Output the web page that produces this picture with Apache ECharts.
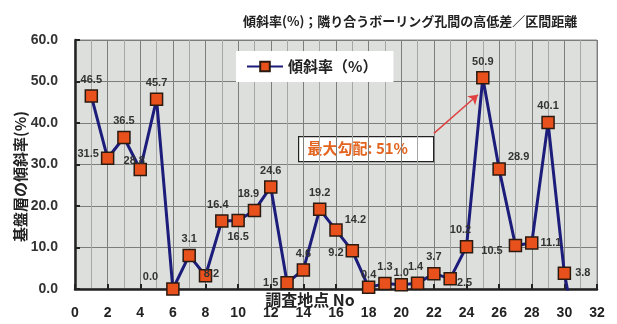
<!DOCTYPE html>
<html>
<head>
<meta charset="utf-8">
<script src="https://cdn.jsdelivr.net/npm/echarts@6/dist/echarts.min.js"></script>
<style>
    html, body { margin: 0; padding: 0; background: #fff; }
    #chart { width: 617px; height: 324px; }
</style>
</head>
<body>
<div id="chart"></div>
<script>
    // 調査地点 No と傾斜率(%)
    var points = [1, 2, 3, 4, 5, 6, 7, 8, 9, 10, 11, 12, 13, 14, 15, 16, 17, 18, 19, 20, 21, 22, 23, 24, 25, 26, 27, 28, 29, 30, 31];
    var slopes = [46.5, 31.5, 36.5, 28.8, 45.7, 0.0, 8.1, 3.2, 16.4, 16.5, 18.9, 24.6, 1.5, 4.6, 19.2, 14.2, 9.2, 0.4, 1.3, 1.0, 1.4, 3.7, 2.5, 10.2, 50.9, 28.9, 10.5, 11.1, 40.1, 3.8, -17];
    // labels as printed on the chart (last point has none)
    var labelTexts = ["46.5", "31.5", "36.5", "28.8", "45.7", "0.0", "3.1", "8.2", "16.4", "16.5", "18.9", "24.6", "1.5", "4.6", "19.2", "14.2", "9.2", "0.4", "1.3", "1.0", "1.4", "3.7", "2.5", "10.2", "50.9", "28.9", "10.5", "11.1", "40.1", "3.8", ""];
    var labelPos = ["top", "left", "top", "top", "top", "left", "top", "top", "top", "bottom", "top", "top", "left", "top", "top", "right", "left", "top", "top", "top", "top", "top", "right", "top", "top", "right", "left", "right", "top", "right", ""];
    var labelOffset = [[0, 0], [2, -4], [0, 0], [-6, 8], [0, 0], [-4, -12], [0, 0], [6, 14], [-4, 0], [0, 0], [-6, 0], [0, 0], [2, 0], [0, 0], [0, 0], [-2, -10], [2, 2], [0, 4], [0, 0], [0, 4], [-2, 0], [0, 0], [-4, 4], [-6, 0], [0, 0], [-2, -12], [-2, 6], [-2, 0], [0, 0], [0, 0], [0, 0]];

    var xTicks = { min: 0, max: 32, interval: 2 };
    var yTicks = { min: 0, max: 60, interval: 10 };

    var numFont = "'Liberation Sans', Arial, sans-serif";
    var jpFont = "'Noto Sans CJK JP', sans-serif";

    var seriesData = points.map(function (p, i) {
        var item = { value: [p, slopes[i]] };
        if (labelTexts[i] === "") {
            item.symbol = "none";
            item.label = { show: false };
        } else {
            item.label = { position: labelPos[i], offset: labelOffset[i] };
        }
        return item;
    });

    var chart = echarts.init(document.getElementById("chart"));
    var option = {
        backgroundColor: "#fff",
        animation: false,
        title: {
            text: "傾斜率(%)；隣り合うボーリング孔間の高低差／区間距離",
            left: 238,
            top: 10,
            textStyle: { fontFamily: jpFont, fontSize: 13, fontWeight: "bold", color: "#222" }
        },
        legend: {
            left: 236,
            top: 51,
            backgroundColor: "#fff",
            padding: [8, 16, 8, 10],
            itemWidth: 36,
            itemHeight: 12,
            textStyle: { fontFamily: jpFont, fontSize: 15, fontWeight: "bold", color: "#222" }
        },
        grid: {
            left: 75,
            right: 20,
            top: 40,
            bottom: 35,
            outerBoundsMode: "none",
            containLabel: false,
            show: true,
            backgroundColor: "#dcdfdc",
            borderColor: "#8a8a8a",
            borderWidth: 1
        },
        xAxis: {
            type: "value",
            min: xTicks.min,
            max: xTicks.max,
            interval: xTicks.interval,
            name: "調査地点 No",
            nameLocation: "middle",
            nameGap: 3,
            nameMoveOverlap: false,
            nameTextStyle: {
                fontFamily: jpFont, fontSize: 16, fontWeight: "bold", color: "#222",
                verticalAlign: "top", padding: [0, 52, 0, 0]
            },
            axisLine: { show: true, lineStyle: { color: "#222", width: 2.5 } },
            axisTick: { show: true, inside: true, length: 5, lineStyle: { color: "#222", width: 2 } },
            axisLabel: { margin: 17, fontFamily: numFont, fontSize: 14, fontWeight: "bold", color: "#222" },
            splitLine: { show: true, lineStyle: { color: "#7c7e7c", width: 1 } },
            minorTick: { show: false, splitNumber: 2 },
            minorSplitLine: { show: true, lineStyle: { color: "#a6a8a6", width: 1 } }
        },
        yAxis: {
            type: "value",
            min: yTicks.min,
            max: yTicks.max,
            interval: yTicks.interval,
            name: "基盤層の傾斜率(%)",
            nameLocation: "middle",
            nameGap: 47,
            nameMoveOverlap: false,
            nameTextStyle: {
                fontFamily: jpFont, fontSize: 15, fontWeight: "bold", color: "#222",
                padding: [0, 24, 0, 0]
            },
            axisLine: { show: true, lineStyle: { color: "#222", width: 2.5 } },
            axisTick: { show: true, inside: true, length: 5, lineStyle: { color: "#222", width: 2 } },
            axisLabel: {
                margin: 17,
                fontFamily: numFont, fontSize: 14, fontWeight: "bold", color: "#333",
                formatter: function (v) { return v.toFixed(1); }
            },
            splitLine: { show: true, lineStyle: { color: "#7c7e7c", width: 1 } }
        },
        series: [{
            name: "傾斜率（%）",
            type: "line",
            data: seriesData,
            clip: true,
            symbol: "rect",
            symbolSize: 12,
            lineStyle: { color: "#1c1c7a", width: 3 },
            itemStyle: { color: "#e8501c", borderColor: "#2a1a10", borderWidth: 1.5 },
            label: {
                show: true,
                distance: 4,
                fontFamily: numFont,
                fontSize: 11,
                fontWeight: "bold",
                color: "#333",
                formatter: function (p) { return labelTexts[p.dataIndex]; }
            },
            markLine: {
                silent: true,
                symbol: ["none", "arrow"],
                symbolSize: 9,
                label: { show: false },
                lineStyle: { color: "#e04040", width: 1.5, type: "solid" },
                data: [[{ coord: [22.0, 37.5] }, { coord: [24.7, 46.8] }]]
            }
        }],
        graphic: [{
            type: "group",
            left: 298,
            top: 136,
            children: [{
                type: "rect",
                shape: { x: 0, y: 0, width: 135, height: 25 },
                style: { fill: "#fff", stroke: "#222", lineWidth: 1.2 }
            }, {
                type: "text",
                x: 9,
                y: 4,
                style: {
                    text: "最大勾配: 51%",
                    fill: "#e2641e",
                    font: "bold 15px 'Noto Sans CJK JP', sans-serif"
                }
            }]
        }]
    };
    chart.setOption(option);
</script>
</body>
</html>
